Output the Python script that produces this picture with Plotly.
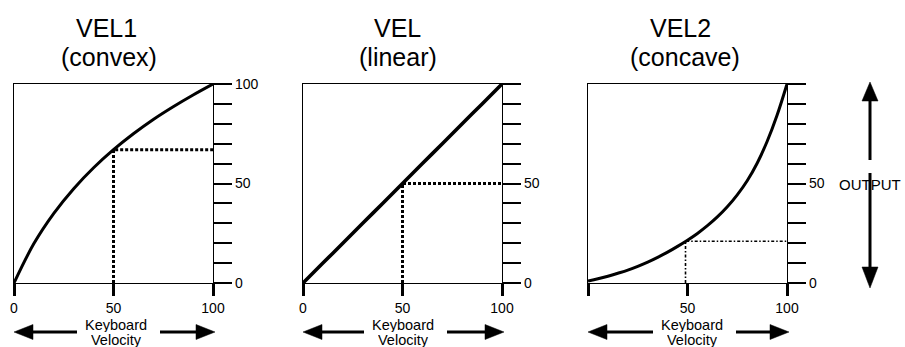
import plotly.graph_objects as go

# ---- data -------------------------------------------------------------
velocity = [0, 10, 20, 30, 40, 50, 60, 70, 80, 90, 100]
vel1_convex = [0, 19.8, 35.0, 47.4, 57.9, 67.0, 75.0, 82.2, 88.6, 94.5, 100]
vel_linear = [0, 10, 20, 30, 40, 50, 60, 70, 80, 90, 100]
vel2_velocity = [0, 5, 10, 15, 20, 25, 30, 35, 40, 45, 50,
                 55, 60, 65, 70, 75, 80, 85, 90, 95, 100]
vel2_concave = [1, 2.1, 3.4, 4.9, 6.5, 8.4, 10.5, 12.9, 15.5, 18.4, 21.5,
                24.9, 28.8, 33.2, 38.3, 44.3, 51.4, 60.2, 71.1, 84.3, 100]

# reference point (velocity, output) marked with dotted guides
vel1_mark = [50, 67]
vel_mark = [50, 50]
vel2_mark = [49, 21]

panel_titles = [("VEL1", "(convex)"), ("VEL", "(linear)"), ("VEL2", "(concave)")]
output_ticks = [0, 10, 20, 30, 40, 50, 60, 70, 80, 90, 100]
output_ticktext = [
    ["0", "", "", "", "", "50", "", "", "", "", "100"],
    ["0", "", "", "", "", "50", "", "", "", "", ""],
    ["0", "", "", "", "", "50", "", "", "", "", ""],
]
velocity_ticks = [0, 50, 100]
velocity_ticktext = [["0", "50", "100"], ["0", "50", "100"], ["", "50", "100"]]

# ---- geometry (pixels) ------------------------------------------------
W, H = 905, 347
panel_left = [14, 303, 588]
panel_w = 199
box_top, box_bottom = 84, 283
title_x = [(106, 109), (397, 398), (680, 685)]
label_cx = [116, 403, 692]

FONT = "Liberation Sans, Arial, sans-serif"
NARROW = "Liberation Sans Narrow, Arial Narrow, Liberation Sans, Arial, sans-serif"


def px(x):
    return x / W


def py(y):
    return 1 - y / H


fig = go.Figure()

curve_x = [velocity, velocity, vel2_velocity]
curves = [vel1_convex, vel_linear, vel2_concave]
marks = [vel1_mark, vel_mark, vel2_mark]
curve_w = [3, 3.6, 3]
guide_style = [
    dict(width=3, dash="3px,2px"),
    dict(width=3, dash="3px,2px"),
    dict(width=1.6, dash="3px,2px,1.5px,2px"),
]

for i in range(3):
    xa = "x" if i == 0 else f"x{i + 1}"
    ya = "y" if i == 0 else f"y{i + 1}"
    mx, my = marks[i]
    fig.add_trace(go.Scatter(
        x=[mx, mx, 100], y=[0, my, my], mode="lines",
        line=dict(color="black", **guide_style[i]),
        xaxis=xa, yaxis=ya, cliponaxis=False, hoverinfo="skip",
    ))
    fig.add_trace(go.Scatter(
        x=curve_x[i], y=curves[i], mode="lines",
        line=dict(color="black", width=curve_w[i], shape="spline", smoothing=1.0),
        xaxis=xa, yaxis=ya, cliponaxis=False,
    ))

layout = dict(
    width=W, height=H, margin=dict(l=0, r=0, t=0, b=0, autoexpand=False),
    paper_bgcolor="white", plot_bgcolor="white", showlegend=False,
)

for i in range(3):
    L = panel_left[i]
    xkey = "xaxis" if i == 0 else f"xaxis{i + 1}"
    ykey = "yaxis" if i == 0 else f"yaxis{i + 1}"
    xa = "x" if i == 0 else f"x{i + 1}"
    ya = "y" if i == 0 else f"y{i + 1}"
    layout[xkey] = dict(
        domain=[px(L), px(L + panel_w)], anchor=ya, range=[0, 100],
        showgrid=False, zeroline=False, showline=True, mirror=True,
        linecolor="black", linewidth=1.2, automargin=False,
        ticks="outside", ticklen=12, tickwidth=2.5, tickcolor="black",
        tickmode="array", tickvals=velocity_ticks, ticktext=velocity_ticktext[i],
        tickfont=dict(family=NARROW, size=14, color="black"),
        fixedrange=True,
    )
    layout[ykey] = dict(
        domain=[py(box_bottom), py(box_top)], anchor=xa, side="right", range=[0, 100],
        showgrid=False, zeroline=False, showline=True, mirror=True,
        linecolor="black", linewidth=1.2, automargin=False,
        ticks="outside", ticklen=18, tickwidth=2, tickcolor="black",
        tickmode="array", tickvals=output_ticks, ticktext=output_ticktext[i],
        tickfont=dict(family=NARROW, size=14, color="black"),
        fixedrange=True,
    )

fig.update_layout(**layout)

annotations = []
shapes = []


def text(x, y, s, size, box_h=None):
    ann = dict(
        x=px(x), y=py(y), xref="paper", yref="paper", text=s, showarrow=False,
        xanchor="center", yanchor="middle",
        font=dict(family=FONT, size=size, color="black"),
    )
    if box_h is not None:
        ann.update(height=box_h, borderpad=0)
    annotations.append(ann)


def arrow(x0, y0, x1, y1, head_len=19, head_w=15, width=3):
    """Solid arrow from (x0, y0) to the tip at (x1, y1), pixel coordinates."""
    dx, dy = x1 - x0, y1 - y0
    n = (dx * dx + dy * dy) ** 0.5
    ux, uy = dx / n, dy / n
    bx, by = x1 - ux * head_len, y1 - uy * head_len
    shapes.append(dict(
        type="line", xref="paper", yref="paper",
        x0=px(x0), y0=py(y0), x1=px(bx + ux), y1=py(by + uy),
        line=dict(color="black", width=width),
    ))
    nx, ny = -uy, ux
    p1 = (bx + nx * head_w / 2, by + ny * head_w / 2)
    p2 = (bx - nx * head_w / 2, by - ny * head_w / 2)
    path = "M{},{} L{},{} L{},{} Z".format(
        px(x1), py(y1), px(p1[0]), py(p1[1]), px(p2[0]), py(p2[1]))
    shapes.append(dict(
        type="path", xref="paper", yref="paper", path=path,
        fillcolor="black", line=dict(color="black", width=0.5),
    ))


for i in range(3):
    L = panel_left[i]
    R = L + panel_w
    top, sub = panel_titles[i]
    tx1, tx2 = title_x[i]
    text(tx1, 28, top, 25)
    text(tx2, 57, sub, 25)
    cx = label_cx[i]
    text(cx, 324.5, "Keyboard", 14.5, box_h=15)
    text(cx, 339.5, "Velocity", 14.5, box_h=15)
    arrow(cx - 39, 332, L, 332)
    arrow(cx + 44, 332, R + 2, 332)

# output direction indicator
text(870, 184, "OUTPUT", 15)
arrow(870, 160, 870, 82, head_len=19, head_w=16)
arrow(870, 173, 870, 288, head_len=21, head_w=16)

fig.update_layout(annotations=annotations, shapes=shapes)

fig.write_html(
    "out.html",
    config={"displayModeBar": False},
    post_script="document.body.style.margin='0';document.body.style.overflow='hidden';",
)
